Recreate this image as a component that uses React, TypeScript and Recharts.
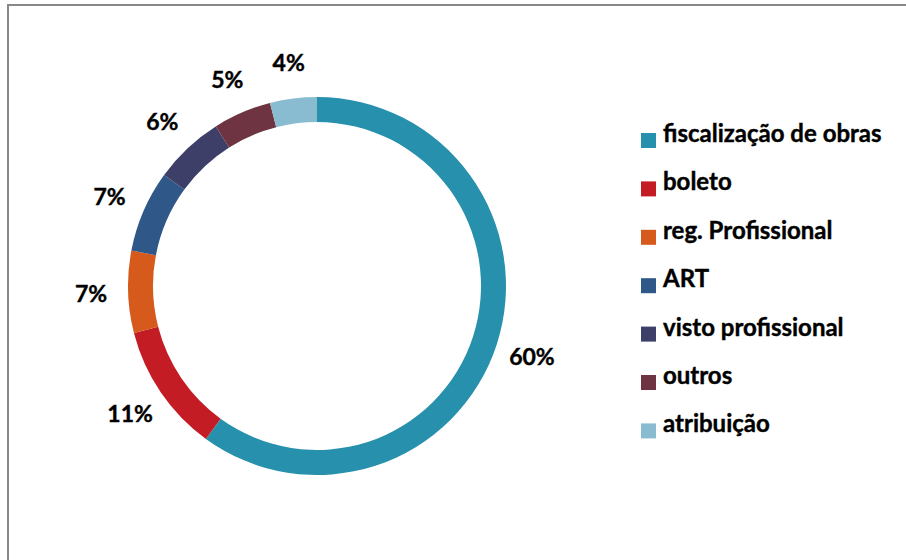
import React from 'react';
import { PieChart, Pie, Cell, Legend } from 'recharts';

const categories = [
  'fiscalização de obras',
  'boleto',
  'reg. Profissional',
  'ART',
  'visto profissional',
  'outros',
  'atribuição',
];
const values = [60, 11, 7, 7, 6, 5, 4];
const colors = ['#2790AC', '#C41C24', '#D55A1B', '#2F5788', '#3D3F69', '#6E3441', '#8ABCD1'];

const data = categories.map((name, i) => ({ name, value: values[i] }));

const FONT = 'Lato, "Open Sans", sans-serif';

const renderLabel = (props: any) => {
  const { cx, cy, midAngle, outerRadius, value } = props;
  const RAD = Math.PI / 180;
  const r = outerRadius + 37;
  const x = cx + r * Math.cos(-midAngle * RAD);
  const y = cy + r * Math.sin(-midAngle * RAD);
  return (
    <text
      x={x}
      y={y}
      textAnchor="middle"
      dominantBaseline="central"
      fontFamily={FONT}
      fontWeight={700}
      fontSize={23}
      fill="#000"
      stroke="#000"
      strokeWidth={0.4}
    >
      {`${value}%`}
    </text>
  );
};

const renderLegend = () => {
  const rowH = 48.4;
  return (
    <svg width={265} height={360} style={{ display: 'block' }}>
      {data.map((entry, i) => (
        <g key={`leg-${i}`}>
          <rect x={0} y={23 + i * rowH} width={15} height={15} fill={colors[i]} />
          <text
            x={22}
            y={32 + i * rowH}
            fontFamily={FONT}
            fontWeight={700}
            fontSize={24}
            fill="#000"
            stroke="#000"
            strokeWidth={0.4}
          >
            {entry.name}
          </text>
        </g>
      ))}
    </svg>
  );
};

export default function App() {
  return (
    <div
      style={{
        position: 'fixed',
        left: 0,
        top: 0,
        width: 906,
        height: 560,
        overflow: 'hidden',
        background: '#fff',
      }}
    >
      <div
        style={{
          position: 'absolute',
          left: 7,
          top: 4,
          width: 1000,
          height: 1000,
          border: '2px solid #888',
          boxSizing: 'border-box',
        }}
      />
      <div style={{ position: 'absolute', left: 0, top: 0 }}>
        <PieChart width={906} height={560} margin={{ top: 0, right: 0, bottom: 0, left: 0 }}>
          <Pie
            data={data}
            dataKey="value"
            nameKey="name"
            cx={317}
            cy={286}
            outerRadius={189}
            innerRadius={164}
            startAngle={90}
            endAngle={-270}
            stroke="none"
            label={renderLabel}
            labelLine={false}
            isAnimationActive={false}
          >
            {data.map((d, i) => (
              <Cell key={`c-${i}`} fill={colors[i]} />
            ))}
          </Pie>
          <Legend
            layout="vertical"
            align="right"
            verticalAlign="middle"
            content={renderLegend}
            wrapperStyle={{ position: 'absolute', left: 641, top: 110, width: 265, height: 360 }}
          />
        </PieChart>
      </div>
    </div>
  );
}
